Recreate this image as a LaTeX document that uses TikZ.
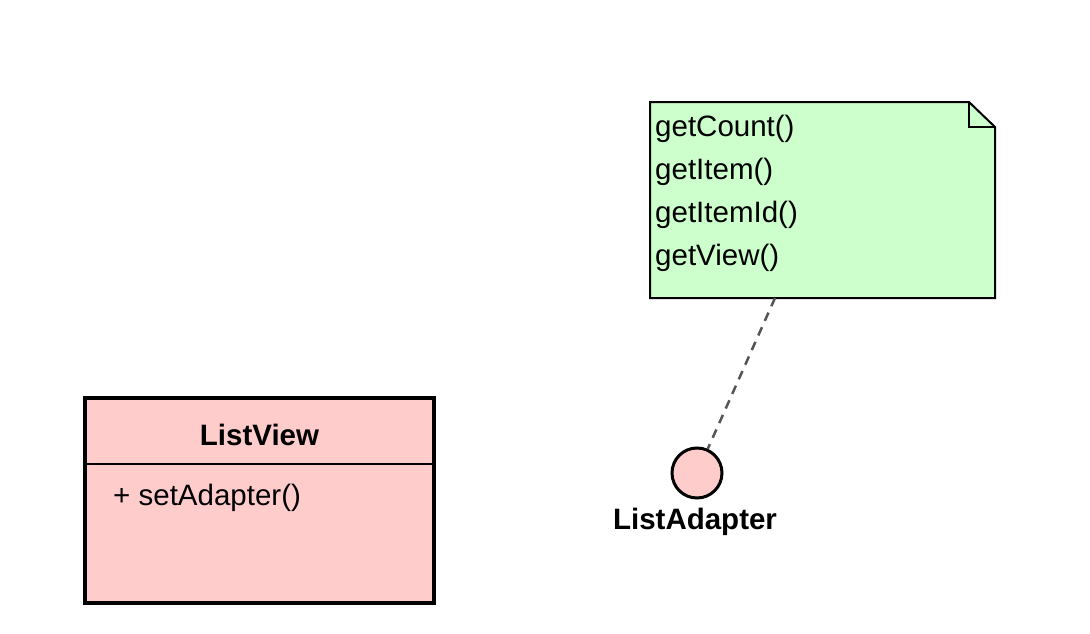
\documentclass[tikz,border=0pt]{standalone}
\usepackage{fontspec}
\setmainfont{Liberation Sans}
\definecolor{notegreen}{RGB}{204,255,204}
\definecolor{classpink}{RGB}{255,204,204}
\definecolor{dashgray}{RGB}{85,85,85}
\tikzset{
  notetext/.style={anchor=west, inner sep=0pt, font=\fontsize{29.5}{34}\selectfont},
  membertext/.style={anchor=west, inner sep=0pt, font=\fontsize{29.5}{34}\selectfont},
  titletext/.style={inner sep=0pt, font=\fontsize{29.5}{34}\selectfont\bfseries},
  classbox/.style={draw=black, line width=4pt, fill=classpink},
  notebox/.style={draw=black, line width=2pt, fill=notegreen, line join=miter},
  iface/.style={circle, draw=black, line width=3pt, fill=classpink, minimum size=50pt, inner sep=0pt},
  realline/.style={dashgray, line width=2.5pt, dash pattern=on 9pt off 7pt}
}
\begin{document}
\begin{tikzpicture}[x=1pt,y=-1pt]
\useasboundingbox (0,0) rectangle (1090,634);
\fill[white] (0,0) rectangle (1090,634);
% note
\draw[notebox] (650,102) -- (969,102) -- (995,127) -- (995,298) -- (650,298) -- cycle;
\draw[black, line width=2pt] (969,102) -- (969,127) -- (995,127);
\coordinate (notebot) at (775,298);
\node[notetext] (n1) at (655,129) {getCount()};
\node[notetext] (n2) at (655,172) {getItem()};
\node[notetext] (n3) at (655,215) {getItemId()};
\node[notetext] (n4) at (655,258) {getView()};
% class
\draw[classbox] (85,398) rectangle (434,603);
\draw[black, line width=2pt] (85,464) -- (434,464);
\node[titletext] (cname) at (259.5,435) {ListView};
\node[membertext] (m1) at (113,498) {+ setAdapter()};
% interface
\node[iface] (ia) at (697,473) {};
\node[titletext, anchor=north] (ialabel) at (695,508) {ListAdapter};
\draw[realline] (notebot) -- (ia);
\end{tikzpicture}
\end{document}
